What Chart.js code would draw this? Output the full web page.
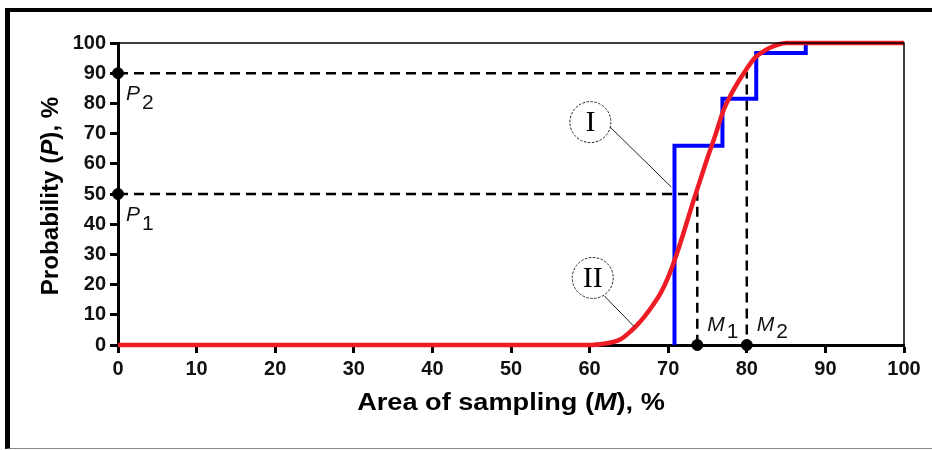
<!DOCTYPE html>
<html>
<head>
<meta charset="utf-8">
<script src="https://cdn.jsdelivr.net/npm/chart.js@4/dist/chart.umd.min.js"></script>
<style>
  html, body { margin: 0; padding: 0; background: #fff; }
  #wrap { position: relative; width: 932px; height: 450px; overflow: hidden; }
  #frame {
    position: absolute; left: 5px; top: 8px; width: 940px; height: 436px;
    border-left: 5px solid #000; border-top: 4px solid #000; border-bottom: 1px solid #888;
  }
  #chart { position: absolute; left: 0; top: 0; }
</style>
</head>
<body>
<div id="wrap">
  <div id="frame"></div>
  <canvas id="chart" width="932" height="450"></canvas>
</div>
<script>
// curve II (smooth red)
const curveX = [0, 60, 62, 63, 64, 65, 66, 67, 68, 69, 70, 71, 72, 73, 74, 75, 76, 77, 78, 79, 80, 81, 82, 83, 84, 85, 86, 100];
const curveY = [0, 0, 0.5, 1, 2, 4, 6.5, 9.5, 13, 17, 22.5, 29.5, 37.5, 46, 54, 62, 69.5, 77.5, 83, 87.5, 91.5, 95, 97, 98.5, 99.5, 100, 100, 100];

// curve I (blue step), starts rising at 70.8
const stepX = [70.8, 70.8, 76.9, 81.2, 87.5, 100];
const stepY = [0, 66, 81.5, 96.7, 100, 100];

// reference levels P1, P2 and their M values
const levelP = [50, 90];
const levelM = [73.7, 80];

const xTicks = [0, 10, 20, 30, 40, 50, 60, 70, 80, 90, 100];
const yTicks = [0, 10, 20, 30, 40, 50, 60, 70, 80, 90, 100];

const toPts = (xs, ys) => xs.map((x, i) => ({ x: x, y: ys[i] }));

const refSets = levelP.map((p, i) => ({
  type: "line",
  data: [{ x: 0, y: p }, { x: levelM[i], y: p }, { x: levelM[i], y: 0 }],
  borderColor: "#000",
  borderWidth: 2.5,
  borderDash: [10, 6],
  pointRadius: 0,
  order: 3,
  clip: false,
}));

const dots = [];
levelP.forEach((p) => dots.push({ x: 0, y: p }));
levelM.forEach((m) => dots.push({ x: m, y: 0 }));

const FONT = "'Liberation Sans', Arial, sans-serif";

const extras = {
  id: "extras",
  afterDraw(chart) {
    const ctx = chart.ctx;
    const xs = chart.scales.x;
    const ys = chart.scales.y;
    const a = chart.chartArea;
    ctx.save();

    // thin top and right frame of the plot
    ctx.strokeStyle = "#000";
    ctx.lineWidth = 1.5;
    ctx.beginPath();
    ctx.moveTo(a.left, a.top);
    ctx.lineTo(a.right, a.top);
    ctx.lineTo(a.right, a.bottom);
    ctx.stroke();

    // subscripted italic labels
    ctx.fillStyle = "#111";
    ctx.textBaseline = "alphabetic";
    ctx.textAlign = "left";
    function subLabel(letter, sub, px, py, dy) {
      ctx.font = "italic 21px " + FONT;
      ctx.fillText(letter, px, py);
      const w = ctx.measureText(letter).width;
      ctx.font = "21px " + FONT;
      ctx.fillText(sub, px + w + 2, py + dy);
    }
    levelP.forEach((p, i) => {
      subLabel("P", String(i + 1), xs.getPixelForValue(0) + 8, ys.getPixelForValue(p) + 27, 9);
    });
    levelM.forEach((m, i) => {
      subLabel("M", String(i + 1), xs.getPixelForValue(m) + 10, ys.getPixelForValue(0) - 14, 7);
    });

    // circled curve labels with leader lines
    function tag(text, cx, cy, lx1, ly1, lx2, ly2) {
      const px = xs.getPixelForValue(cx), py = ys.getPixelForValue(cy);
      ctx.strokeStyle = "#222";
      ctx.lineWidth = 1;
      ctx.setLineDash([]);
      ctx.beginPath();
      ctx.moveTo(xs.getPixelForValue(lx1), ys.getPixelForValue(ly1));
      ctx.lineTo(xs.getPixelForValue(lx2), ys.getPixelForValue(ly2));
      ctx.stroke();
      ctx.setLineDash([2.5, 1.5]);
      ctx.fillStyle = "#fff";
      ctx.beginPath();
      ctx.arc(px, py, 20.5, 0, Math.PI * 2);
      ctx.fill();
      ctx.stroke();
      ctx.setLineDash([]);
      ctx.fillStyle = "#000";
      ctx.font = "30px 'Liberation Serif', 'Times New Roman', serif";
      ctx.textAlign = "center";
      ctx.textBaseline = "middle";
      ctx.fillText(text, px, py + 1);
      ctx.textAlign = "left";
      ctx.textBaseline = "alphabetic";
    }
    tag("I", 60.1, 73.8, 62.6, 72.2, 70.4, 52.3);
    tag("II", 60.4, 22.2, 61.9, 16.2, 65.7, 6);

    // axis titles with italic symbols
    function mixed(parts, x, y, size, stretch) {
      let total = 0;
      parts.forEach((pt) => {
        ctx.font = (pt[1] ? "italic " : "") + "bold " + size + "px " + FONT;
        total += ctx.measureText(pt[0]).width;
      });
      ctx.save();
      ctx.translate(x, y);
      ctx.scale(stretch, 1);
      let cx = -total / 2;
      parts.forEach((pt) => {
        ctx.font = (pt[1] ? "italic " : "") + "bold " + size + "px " + FONT;
        ctx.fillText(pt[0], cx, 0);
        cx += ctx.measureText(pt[0]).width;
      });
      ctx.restore();
    }
    ctx.fillStyle = "#000";
    mixed([["Area of sampling (", false], ["M", true], ["), %", false]], (a.left + a.right) / 2, 410, 23, 1.18);
    ctx.translate(58, (a.top + a.bottom) / 2 + 2);
    ctx.rotate(-Math.PI / 2);
    mixed([["Probability (", false], ["P", true], ["), %", false]], 0, 0, 23, 1.05);

    ctx.restore();
  },
};

new Chart(document.getElementById("chart"), {
  type: "line",
  data: {
    datasets: [
      {
        label: "II",
        data: toPts(curveX, curveY),
        borderColor: "#ee1c25",
        borderWidth: 4.5,
        pointRadius: 0,
        cubicInterpolationMode: "monotone",
        order: 0,
        clip: false,
      },
      {
        label: "I",
        data: toPts(stepX, stepY),
        borderColor: "#0000ff",
        borderWidth: 4,
        pointRadius: 0,
        stepped: "before",
        order: 1,
        clip: false,
      },
      ...refSets,
      {
        type: "scatter",
        data: dots,
        pointRadius: 5.5,
        pointBackgroundColor: "#000",
        pointBorderColor: "#000",
        showLine: false,
        order: -1,
        clip: false,
      },
    ],
  },
  options: {
    responsive: false,
    animation: false,
    devicePixelRatio: 1,
    layout: { padding: { top: 43, right: 28, left: 0, bottom: 0 } },
    plugins: { legend: { display: false }, tooltip: { enabled: false } },
    scales: {
      x: {
        type: "linear",
        min: 0,
        max: 100,
        afterFit: (s) => { s.height = 105; },
        afterBuildTicks: (s) => { s.ticks = xTicks.map((v) => ({ value: v })); },
        grid: { drawOnChartArea: false, drawTicks: true, tickLength: 8, tickWidth: 3, tickColor: "#000" },
        border: { display: true, width: 3, color: "#000" },
        ticks: { color: "#111", padding: 4, maxRotation: 0, font: { family: FONT, size: 20, weight: "bold" } },
      },
      y: {
        type: "linear",
        min: 0,
        max: 100,
        afterFit: (s) => { s.width = 118; },
        afterBuildTicks: (s) => { s.ticks = yTicks.map((v) => ({ value: v })); },
        grid: { drawOnChartArea: false, drawTicks: true, tickLength: 8, tickWidth: 3, tickColor: "#000" },
        border: { display: true, width: 3, color: "#000" },
        ticks: { color: "#111", padding: 4, font: { family: FONT, size: 20, weight: "bold" } },
      },
    },
  },
  plugins: [extras],
});
</script>
</body>
</html>
